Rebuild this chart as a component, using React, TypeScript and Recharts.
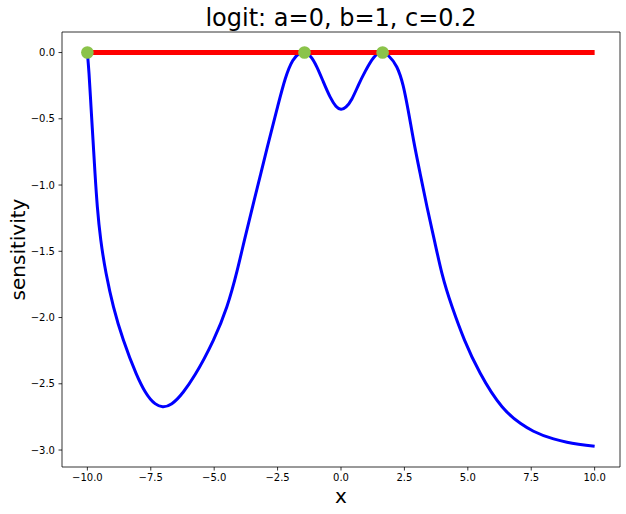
import React from 'react';
import {
  ComposedChart,
  Line,
  Scatter,
  XAxis,
  YAxis,
  ReferenceArea,
} from 'recharts';

// blue curve
const curveX = [
  -10, -9.935, -9.856, -9.777, -9.698, -9.606, -9.47, -9.26, -8.97, -8.58,
  -8.08, -7.72, -7.33, -7.03, -6.67, -6.21, -5.75, -5.03, -4.5, -4.1,
  -3.8, -3.3, -2.9, -2.5, -2.2, -1.9, -1.65, -1.44, -1.2, -0.95,
  -0.7, -0.43, -0.2, 0, 0.2, 0.43, 0.7, 0.96, 1.3, 1.64,
  1.9, 2.2, 2.45, 2.86, 3.12, 3.39, 3.68, 3.98, 4.38, 4.87,
  5.49, 6.35, 7.07, 7.59, 8.38, 8.91, 10,
];
const curveY = [
  0, -0.158, -0.41, -0.661, -0.913, -1.164, -1.416, -1.667, -1.919, -2.17,
  -2.421, -2.56, -2.65, -2.673, -2.65, -2.56, -2.43, -2.17, -1.919, -1.65,
  -1.41, -1.02, -0.71, -0.41, -0.2, -0.06, -0.008, 0, -0.03, -0.11,
  -0.22, -0.335, -0.405, -0.428, -0.41, -0.35, -0.24, -0.14, -0.035, 0,
  -0.03, -0.109, -0.25, -0.661, -0.913, -1.164, -1.416, -1.667, -1.919, -2.17,
  -2.421, -2.673, -2.798, -2.858, -2.916, -2.941, -2.972,
];

// red baseline and green markers
const baseX = [-10, 10];
const baseY = [0, 0];
const markerX = [-10, -1.44, 1.64];
const markerY = [0, 0, 0];

const xTicks = [-10, -7.5, -5, -2.5, 0, 2.5, 5, 7.5, 10];
const yTicks = [0, -0.5, -1, -1.5, -2, -2.5, -3];

const X_DOMAIN: [number, number] = [-11, 11];
const Y_DOMAIN: [number, number] = [-3.128, 0.155];

const FONT = 'DejaVu Sans, sans-serif';

const fmt = (v: number) => (v < 0 ? '\u2212' : '') + Math.abs(v).toFixed(1);

const zip = (xs: number[], ys: number[]) => xs.map((x, i) => ({ x, y: ys[i] }));

// natural cubic spline along x, so the curve stays smooth through the read points
function naturalX(ctx: any) {
  let xs: number[] = [];
  let ys: number[] = [];
  return {
    areaStart() {},
    areaEnd() {},
    lineStart() {
      xs = [];
      ys = [];
    },
    point(x: number, y: number) {
      xs.push(+x);
      ys.push(+y);
    },
    lineEnd() {
      const n = xs.length;
      if (!n) return;
      ctx.moveTo(xs[0], ys[0]);
      if (n < 3) {
        for (let i = 1; i < n; i++) ctx.lineTo(xs[i], ys[i]);
        return;
      }
      const h: number[] = [];
      for (let i = 0; i < n - 1; i++) h.push(xs[i + 1] - xs[i]);
      // tridiagonal solve for second derivatives
      const m = new Array(n).fill(0);
      const a = new Array(n).fill(0);
      const b = new Array(n).fill(0);
      const c = new Array(n).fill(0);
      const r = new Array(n).fill(0);
      b[0] = 1;
      b[n - 1] = 1;
      for (let i = 1; i < n - 1; i++) {
        a[i] = h[i - 1];
        b[i] = 2 * (h[i - 1] + h[i]);
        c[i] = h[i];
        r[i] = 6 * ((ys[i + 1] - ys[i]) / h[i] - (ys[i] - ys[i - 1]) / h[i - 1]);
      }
      for (let i = 1; i < n; i++) {
        const w = a[i] / b[i - 1];
        b[i] -= w * c[i - 1];
        r[i] -= w * r[i - 1];
      }
      m[n - 1] = r[n - 1] / b[n - 1];
      for (let i = n - 2; i >= 0; i--) m[i] = (r[i] - c[i] * m[i + 1]) / b[i];
      for (let i = 0; i < n - 1; i++) {
        const hi = h[i];
        const s = (ys[i + 1] - ys[i]) / hi;
        const d0 = s - (hi * (2 * m[i] + m[i + 1])) / 6;
        const d1 = s + (hi * (m[i] + 2 * m[i + 1])) / 6;
        ctx.bezierCurveTo(
          xs[i] + hi / 3,
          ys[i] + (d0 * hi) / 3,
          xs[i + 1] - hi / 3,
          ys[i + 1] - (d1 * hi) / 3,
          xs[i + 1],
          ys[i + 1]
        );
      }
    },
  };
}

export default function App() {
  const curve = zip(curveX, curveY);
  const base = zip(baseX, baseY);
  const markers = zip(markerX, markerY);

  const tickStyle = { fontSize: 10, fontFamily: FONT, fill: '#000' };

  return (
    <div style={{ position: 'absolute', left: 0, top: 0, width: 626, height: 514, background: '#fff' }}>
      <ComposedChart
        width={626}
        height={514}
        margin={{ top: 32, right: 6, bottom: 0, left: 0 }}
      >
        <XAxis
          dataKey="x"
          type="number"
          domain={X_DOMAIN}
          ticks={xTicks}
          tickFormatter={fmt}
          allowDataOverflow
          height={47}
          tickSize={3.5}
          tickMargin={3.5}
          axisLine={false}
          tickLine={{ stroke: '#000', strokeWidth: 0.8 }}
          tick={tickStyle}
          interval={0}
        />
        <YAxis
          dataKey="y"
          type="number"
          domain={Y_DOMAIN}
          ticks={yTicks}
          tickFormatter={fmt}
          allowDataOverflow
          width={62}
          tickSize={3.5}
          tickMargin={3.5}
          axisLine={false}
          tickLine={{ stroke: '#000', strokeWidth: 0.8 }}
          tick={tickStyle}
          interval={0}
        />
        {/* full box like matplotlib spines */}
        <ReferenceArea
          x1={X_DOMAIN[0]}
          x2={X_DOMAIN[1]}
          y1={Y_DOMAIN[0]}
          y2={Y_DOMAIN[1]}
          fill="none"
          fillOpacity={0}
          stroke="#000"
          strokeWidth={0.8}
        />
        <Line
          data={curve}
          dataKey="y"
          type={naturalX as any}
          stroke="#0000ff"
          strokeWidth={3}
          dot={false}
          activeDot={false}
          isAnimationActive={false}
        />
        <Line
          data={base}
          dataKey="y"
          type="linear"
          stroke="#ff0000"
          strokeWidth={5}
          dot={false}
          activeDot={false}
          isAnimationActive={false}
        />
        <Scatter
          data={markers}
          dataKey="y"
          fill="#8bc34a"
          shape={(p: any) => <circle cx={p.cx} cy={p.cy} r={6.3} fill="#8bc34a" />}
          isAnimationActive={false}
        />
      </ComposedChart>
      <svg
        width={626}
        height={514}
        style={{ position: 'absolute', left: 0, top: 0, pointerEvents: 'none' }}
      >
        <text x={341} y={26} textAnchor="middle" fontFamily={FONT} fontSize={24} fill="#000">
          logit: a=0, b=1, c=0.2
        </text>
        <text x={341} y={503} textAnchor="middle" fontFamily={FONT} fontSize={20} fill="#000">
          x
        </text>
        <text
          x={0}
          y={0}
          transform="translate(25,249.5) rotate(-90)"
          textAnchor="middle"
          fontFamily={FONT}
          fontSize={20}
          fill="#000"
        >
          sensitivity
        </text>
      </svg>
    </div>
  );
}
